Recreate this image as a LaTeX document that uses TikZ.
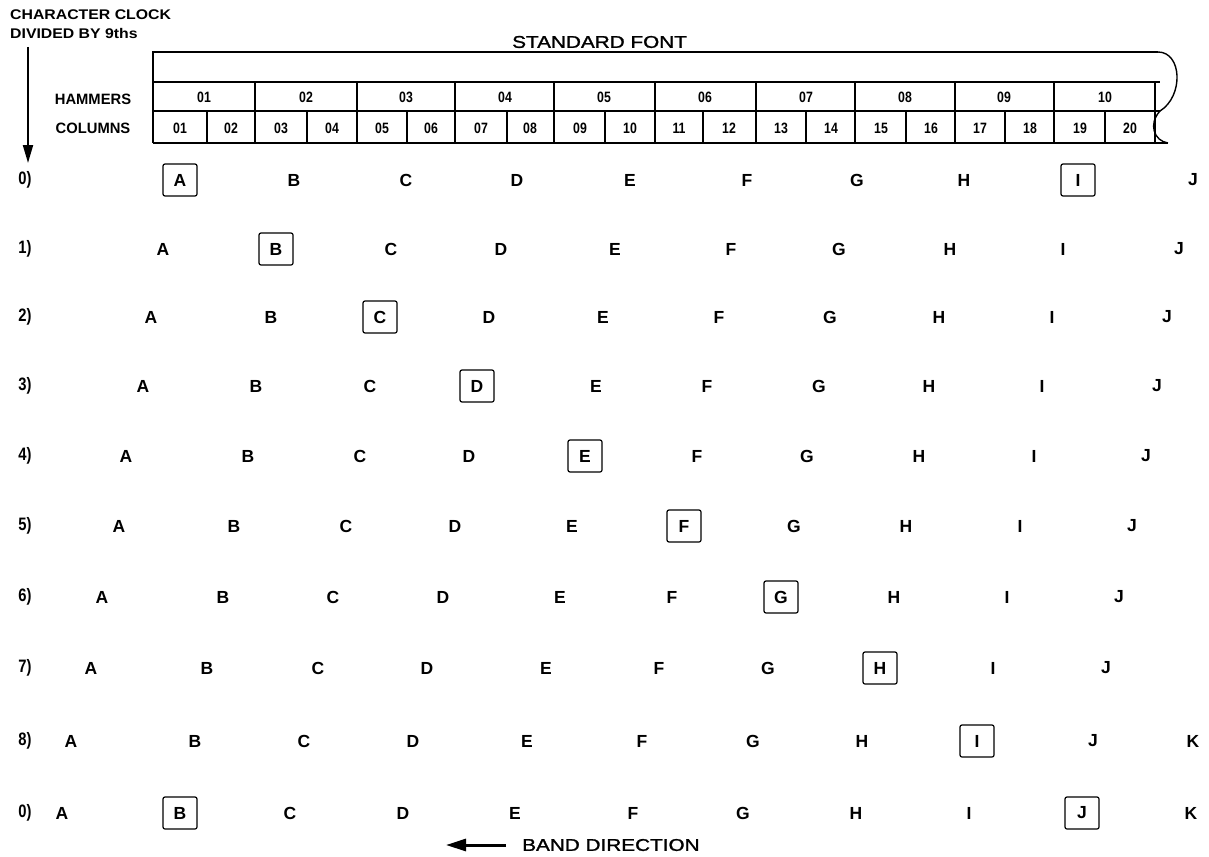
\documentclass[tikz,border=0pt]{standalone}
\usepackage{fontspec}
\setmainfont{Liberation Sans}
\newfontfamily\condfont[FakeStretch=0.82]{Liberation Sans}
\newfontfamily\medfont[FakeBold=1.2]{Liberation Sans}
\usetikzlibrary{arrows.meta}
\begin{document}
\begin{tikzpicture}[x=1pt,y=-1pt,
  ltr/.style={font=\fontsize{17.5}{17.5}\selectfont\bfseries, inner sep=0pt},
  boxltr/.style={ltr, draw, line width=1.2pt, rounded corners=2pt, minimum width=34pt, minimum height=32pt},
  lbl/.style={font=\condfont\fontsize{18}{18}\selectfont\bfseries, inner sep=0pt},
  cell/.style={font=\condfont\fontsize{15}{15}\selectfont\bfseries, inner sep=0pt},
  hdr/.style={font=\fontsize{14}{14}\selectfont\bfseries, inner sep=0pt},
  med/.style={font=\medfont\fontsize{17}{17}\selectfont, inner sep=0pt},
  tbl/.style={line width=1.4pt},
  clockarrow/.style={line width=2pt, -{Triangle[length=18pt,width=10pt]}},
  bandarrow/.style={line width=3pt, -{Triangle[length=20pt,width=12pt]}}
]
\useasboundingbox (0,0) rectangle (1209,856);
% header texts
\node[hdr, anchor=west] (cc1) at (10,15) {\scalebox{1.13}[1]{CHARACTER CLOCK}};
\node[hdr, anchor=west] (cc2) at (10,33) {\scalebox{1.13}[1]{DIVIDED BY 9ths}};
\node[med, anchor=west] (sf) at (512,42) {\scalebox{1.22}[1]{STANDARD FONT}};
\node[cell, anchor=center] (ham) at (93,99) {\scalebox{1.2}[1]{HAMMERS}};
\node[cell, anchor=center] (col) at (93,128) {\scalebox{1.2}[1]{COLUMNS}};
% clock arrow
\coordinate (ctop) at (28,47);
\coordinate (cbot) at (28,163);
\draw[clockarrow] (ctop) -- (cbot);
% table
\draw[tbl] (153,143) -- (153,52) -- (1158,52);
\draw[tbl] (1158,52) .. controls (1182,52) and (1184,96) .. (1160,111);
\draw[tbl] (1160,111) .. controls (1148,124) and (1154,141) .. (1168,143);
\draw[tbl] (153,82) -- (1160,82);
\draw[tbl] (153,111) -- (1160,111);
\draw[tbl] (153,143) -- (1168,143);
\foreach \x in {255,357,455,554,655,756,855,955,1054,1155}
  \draw[tbl] (\x,82) -- (\x,143);
\foreach \x in {207,307,407,507,605,703,806,906,1005,1105}
  \draw[tbl] (\x,111) -- (\x,143);
\foreach \x/\t [count=\i] in {204/01,306/02,406/03,505/04,604/05,705/06,806/07,905/08,1004/09,1105/10}
  \node[cell] (h\i) at (\x,97) {\t};
\foreach \x/\t [count=\i] in {180/01,231/02,281/03,332/04,382/05,431/06,481/07,530/08,580/09,630/10,679/11,729/12,781/13,831/14,881/15,931/16,980/17,1030/18,1080/19,1130/20}
  \node[cell] (c\i) at (\x,128) {\t};
% row labels
\foreach \y/\t [count=\i] in {180/0),249/1),317/2),386/3),456/4),526/5),597/6),668/7),741/8),813/0)}
  \node[lbl] (lab\i) at (25,\y) {\t};
% rows
\foreach \x/\l/\s [count=\i] in {180/A/boxltr,294/B/ltr,406/C/ltr,517/D/ltr,630/E/ltr,747/F/ltr,857/G/ltr,964/H/ltr,1078/I/boxltr,1193/J/ltr}
  \node[\s] (ra\i) at (\x,180) {\l};
\foreach \x/\l/\s [count=\i] in {163/A/ltr,276/B/boxltr,391/C/ltr,501/D/ltr,615/E/ltr,731/F/ltr,839/G/ltr,950/H/ltr,1063/I/ltr,1179/J/ltr}
  \node[\s] (rb\i) at (\x,249) {\l};
\foreach \x/\l/\s [count=\i] in {151/A/ltr,271/B/ltr,380/C/boxltr,489/D/ltr,603/E/ltr,719/F/ltr,830/G/ltr,939/H/ltr,1052/I/ltr,1167/J/ltr}
  \node[\s] (rc\i) at (\x,317) {\l};
\foreach \x/\l/\s [count=\i] in {143/A/ltr,256/B/ltr,370/C/ltr,477/D/boxltr,596/E/ltr,707/F/ltr,819/G/ltr,929/H/ltr,1042/I/ltr,1157/J/ltr}
  \node[\s] (rd\i) at (\x,386) {\l};
\foreach \x/\l/\s [count=\i] in {126/A/ltr,248/B/ltr,360/C/ltr,469/D/ltr,585/E/boxltr,697/F/ltr,807/G/ltr,919/H/ltr,1034/I/ltr,1146/J/ltr}
  \node[\s] (re\i) at (\x,456) {\l};
\foreach \x/\l/\s [count=\i] in {119/A/ltr,234/B/ltr,346/C/ltr,455/D/ltr,572/E/ltr,684/F/boxltr,794/G/ltr,906/H/ltr,1020/I/ltr,1132/J/ltr}
  \node[\s] (rf\i) at (\x,526) {\l};
\foreach \x/\l/\s [count=\i] in {102/A/ltr,223/B/ltr,333/C/ltr,443/D/ltr,560/E/ltr,672/F/ltr,781/G/boxltr,894/H/ltr,1007/I/ltr,1119/J/ltr}
  \node[\s] (rg\i) at (\x,597) {\l};
\foreach \x/\l/\s [count=\i] in {91/A/ltr,207/B/ltr,318/C/ltr,427/D/ltr,546/E/ltr,659/F/ltr,768/G/ltr,880/H/boxltr,993/I/ltr,1106/J/ltr}
  \node[\s] (rh\i) at (\x,668) {\l};
\foreach \x/\l/\s [count=\i] in {71/A/ltr,195/B/ltr,304/C/ltr,413/D/ltr,527/E/ltr,642/F/ltr,753/G/ltr,862/H/ltr,977/I/boxltr,1093/J/ltr,1193/K/ltr}
  \node[\s] (ri\i) at (\x,741) {\l};
\foreach \x/\l/\s [count=\i] in {62/A/ltr,180/B/boxltr,290/C/ltr,403/D/ltr,515/E/ltr,633/F/ltr,743/G/ltr,856/H/ltr,969/I/ltr,1082/J/boxltr,1191/K/ltr}
  \node[\s] (rj\i) at (\x,813) {\l};
% band direction
\node[med, anchor=west] (band) at (522,845) {\scalebox{1.22}[1]{BAND DIRECTION}};
\coordinate (btail) at (506,845);
\coordinate (btip) at (446,845);
\draw[bandarrow] (btail) -- (btip);
\end{tikzpicture}
\end{document}
